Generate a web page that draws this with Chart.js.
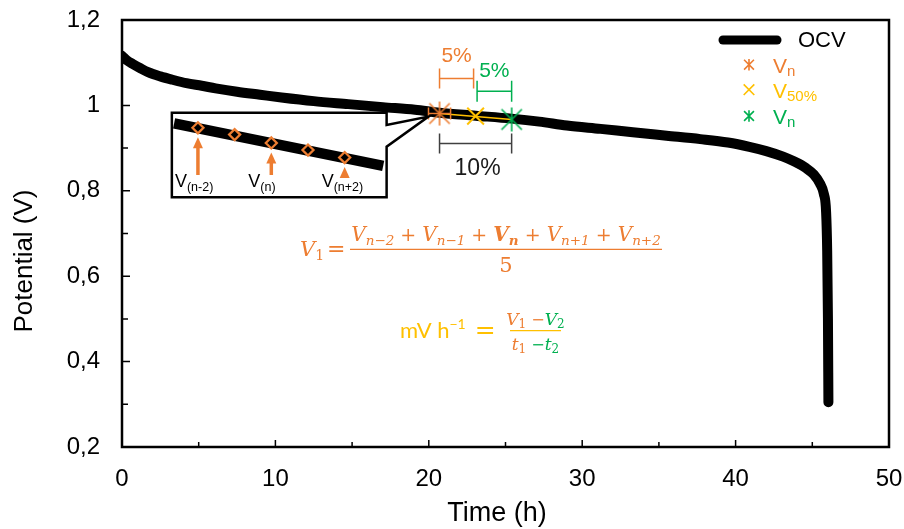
<!DOCTYPE html>
<html>
<head>
<meta charset="utf-8">
<script src="https://cdn.jsdelivr.net/npm/chart.js@4.4.1/dist/chart.umd.min.js"></script>
<style>
  html, body { margin: 0; padding: 0; background: #fff; }
  #wrap { position: relative; width: 904px; height: 529px; }
  #main { position: absolute; left: 0; top: 0; }
  #inset { position: absolute; }
</style>
</head>
<body>
<div id="wrap">
  <canvas id="main" width="904" height="529"></canvas>
  <canvas id="inset"></canvas>
</div>
<script>
// ---- OCV discharge curve: time (h) and potential (V) ----
const timeH = [0, 0.3, 0.7, 1.2, 1.7, 2.5, 3.3, 4.2, 5.2, 6.1, 7.5, 9.0, 10.4, 12.5, 14.75,
  17.0, 19.1, 20.7, 23.05, 25.4, 27.2, 29.0, 31.2, 33.3, 35.5, 37.7, 39.5, 40.9, 42.0,
  43.1, 43.8, 44.6, 45.1, 45.5, 45.75, 45.9, 45.97, 46.02, 46.05];
const ocvV = [1.116, 1.106, 1.097, 1.087, 1.078, 1.068, 1.060, 1.052, 1.046, 1.040, 1.032,
  1.025, 1.0185, 1.010, 1.003, 0.996, 0.990, 0.983, 0.976, 0.969, 0.962, 0.953, 0.945,
  0.937, 0.929, 0.921, 0.913, 0.903, 0.893, 0.880, 0.869, 0.853, 0.838, 0.817, 0.793,
  0.750, 0.66, 0.50, 0.305];

// ---- sampled points: V_n (start), V_50%, V_n (end) ----
const markerT = [20.7, 23.05, 25.4];
const markerV = [0.981, 0.975, 0.967];
const markerSub = ['n', '50%', 'n'];
const startErrT = [0.72];
const spanLabels = ['5%', '5%', '10%'];

// ---- axis tick labels and titles ----
const xTickLabels = ['0', '10', '20', '30', '40', '50'];
const yTickLabels = ['0,2', '0,4', '0,6', '0,8', '1', '1,2'];
const xTitle = 'Time (h)';
const yTitle = 'Potential (V)';

// ---- zoomed window: five consecutive samples around V_n ----
const windowIdx = [-2, -1, 0, 1, 2];
const windowV = [2.04, 1.13, 0, -0.95, -1.96];
const trendIdx = [-2.65, 3.05];
const trendV = [2.63, -3.09];
const arrowIdx = [-2, 0, 2];
const arrowSub = ['(n-2)', '(n)', '(n+2)'];

const ORANGE = '#ED7D31', YELLOW = '#FFC000', GREEN = '#00B050';
const SANS = "'Liberation Sans', Arial, sans-serif";
const SERIF = "'DejaVu Serif', serif";

Chart.defaults.font.family = SANS;
Chart.defaults.color = '#000';

function drawAsterisk(ctx, x, y, r, color, lw) {
  const d = r * 0.85;
  ctx.save();
  ctx.strokeStyle = color;
  ctx.lineWidth = lw;
  ctx.beginPath();
  ctx.moveTo(x, y - r); ctx.lineTo(x, y + r);
  ctx.moveTo(x - d, y - d); ctx.lineTo(x + d, y + d);
  ctx.moveTo(x - d, y + d); ctx.lineTo(x + d, y - d);
  ctx.stroke();
  ctx.restore();
}
function drawCross(ctx, x, y, r, color, lw) {
  ctx.save();
  ctx.strokeStyle = color;
  ctx.lineWidth = lw;
  ctx.beginPath();
  ctx.moveTo(x - r, y - r); ctx.lineTo(x + r, y + r);
  ctx.moveTo(x - r, y + r); ctx.lineTo(x + r, y - r);
  ctx.stroke();
  ctx.restore();
}
function asteriskImage(r, color, lw) {
  const c = document.createElement('canvas');
  const s = Math.ceil(2 * r + lw + 2);
  c.width = s; c.height = s;
  drawAsterisk(c.getContext('2d'), s / 2, s / 2, r, color, lw);
  return c;
}

// draw a run of text pieces in sequence; returns total width
function runs(ctx, x, base, parts, align) {
  let total = 0;
  parts.forEach(p => { ctx.font = p.font; total += ctx.measureText(p.t).width + (p.gap || 0); });
  let cx = align === 'center' ? x - total / 2 : x;
  ctx.textAlign = 'left';
  ctx.textBaseline = 'alphabetic';
  parts.forEach(p => {
    ctx.font = p.font;
    ctx.fillStyle = p.color;
    ctx.fillText(p.t, cx, base + (p.dy || 0));
    cx += ctx.measureText(p.t).width + (p.gap || 0);
  });
  return total;
}

// zoom frame around the window, in data units of the main chart
const frame = { t0: 3.25, t1: 17.25, vTop: 0.983, vBot: 0.785 };

const framePlugin = {
  id: 'frameTicks',
  afterDatasetsDraw(chart) {
    const ctx = chart.ctx;
    const { left, right, top, bottom } = chart.chartArea;
    const xs = chart.scales.x, ys = chart.scales.y;
    ctx.save();
    ctx.strokeStyle = '#000';
    ctx.lineWidth = 2.5;
    ctx.strokeRect(left, top, right - left, bottom - top);
    ctx.lineWidth = 1.5;
    ctx.beginPath();
    xs.ticks.forEach(t => {
      const px = xs.getPixelForValue(t.value);
      const len = Math.round(t.value) % 10 === 0 ? 7 : 5;
      ctx.moveTo(px, bottom); ctx.lineTo(px, bottom - len);
    });
    ys.ticks.forEach(t => {
      const py = ys.getPixelForValue(t.value);
      const len = Math.round(t.value * 10) % 2 === 0 ? 8 : 6;
      ctx.moveTo(left, py); ctx.lineTo(left + len, py);
    });
    ctx.stroke();

    // axis titles
    ctx.fillStyle = '#000';
    ctx.textAlign = 'center'; ctx.textBaseline = 'middle';
    ctx.font = '27px ' + SANS;
    ctx.fillText(xTitle, 497, 514);
    ctx.translate(25, 261);
    ctx.rotate(-Math.PI / 2);
    ctx.font = '26px ' + SANS;
    ctx.fillText(yTitle, 0, 0);
    ctx.restore();
  }
};

const notesPlugin = {
  id: 'notes',
  afterDatasetsDraw(chart) {
    const ctx = chart.ctx;
    const xs = chart.scales.x, ys = chart.scales.y;
    const xo = xs.getPixelForValue(markerT[0]);
    const xy = xs.getPixelForValue(markerT[1]);
    const xg = xs.getPixelForValue(markerT[2]);
    const yo = ys.getPixelForValue(markerV[0]);
    ctx.save();

    // error bar on the first sample
    const e0 = xs.getPixelForValue(markerT[0] - startErrT[0]);
    const e1 = xs.getPixelForValue(markerT[0] + startErrT[0]);
    ctx.strokeStyle = ORANGE; ctx.lineWidth = 1.5;
    ctx.beginPath();
    ctx.moveTo(e0, yo); ctx.lineTo(e1, yo);
    ctx.moveTo(e0, yo - 6); ctx.lineTo(e0, yo + 6);
    ctx.moveTo(e1, yo - 6); ctx.lineTo(e1, yo + 6);
    ctx.stroke();

    // span brackets
    function bracket(a, b, y, h, color) {
      ctx.strokeStyle = color; ctx.lineWidth = 1.5;
      ctx.beginPath();
      ctx.moveTo(a, y); ctx.lineTo(b, y);
      ctx.moveTo(a, y - h); ctx.lineTo(a, y + h);
      ctx.moveTo(b, y - h); ctx.lineTo(b, y + h);
      ctx.stroke();
    }
    ctx.textAlign = 'center'; ctx.textBaseline = 'middle';
    bracket(xo, xy - 2, yo - 35, 10, ORANGE);
    ctx.fillStyle = ORANGE; ctx.font = '21px ' + SANS;
    ctx.fillText(spanLabels[0], (xo + xy - 2) / 2, yo - 57);
    bracket(xy + 1.5, xg, yo - 22.3, 10.5, GREEN);
    ctx.fillStyle = GREEN;
    ctx.fillText(spanLabels[1], (xy + 1.5 + xg) / 2, yo - 42);
    bracket(xo, xg, yo + 30, 10, '#404040');
    ctx.fillStyle = '#1a1a1a'; ctx.font = '23px ' + SANS;
    ctx.fillText(spanLabels[2], (xo + xg) / 2 + 2, yo + 55);

    // zoom frame with callout towards the first sample
    const L = xs.getPixelForValue(frame.t0), R = xs.getPixelForValue(frame.t1);
    const T = ys.getPixelForValue(frame.vTop), B = ys.getPixelForValue(frame.vBot);
    ctx.strokeStyle = '#000'; ctx.lineWidth = 2.5; ctx.lineJoin = 'miter';
    ctx.fillStyle = '#fff';
    ctx.beginPath();
    ctx.moveTo(L, T); ctx.lineTo(R, T); ctx.lineTo(R, T + 12.3);
    ctx.lineTo(e0, yo + 3); ctx.lineTo(R, T + 34);
    ctx.lineTo(R, B); ctx.lineTo(L, B); ctx.closePath();
    ctx.fill(); ctx.stroke();

    // legend
    ctx.lineCap = 'round'; ctx.lineWidth = 9; ctx.strokeStyle = '#000';
    ctx.beginPath(); ctx.moveTo(723, 40); ctx.lineTo(777, 40); ctx.stroke();
    ctx.lineCap = 'butt';
    ctx.fillStyle = '#000'; ctx.font = '22px ' + SANS;
    ctx.textAlign = 'left'; ctx.textBaseline = 'middle';
    ctx.fillText('OCV', 798, 41);
    const colors = [ORANGE, YELLOW, GREEN];
    const rows = [64.7, 89.7, 116];
    rows.forEach((ry, i) => {
      if (i === 1) drawCross(ctx, 749, ry, 5.3, colors[i], 1.6);
      else drawAsterisk(ctx, 749, ry, 5.8, colors[i], 1.6);
      runs(ctx, 773, ry + 8, [
        { t: 'V', font: '21px ' + SANS, color: colors[i] },
        { t: markerSub[i], font: '15px ' + SANS, color: colors[i], dy: 3 }
      ]);
    });

    // formulas
    const it = (s) => 'italic ' + s + 'px ' + SERIF;
    const up = (s) => s + 'px ' + SERIF;
    const bi = (s) => 'italic bold ' + s + 'px ' + SERIF;
    runs(ctx, 300, 256, [
      { t: 'V', font: it(21), color: ORANGE },
      { t: '1', font: up(14), color: ORANGE, dy: 4, gap: 3 },
      { t: '=', font: up(22), color: ORANGE }
    ]);
    const sub = (t, c) => ({ t, font: it(13.5), color: c || ORANGE, dy: 4 });
    runs(ctx, 506, 241, [
      { t: 'V', font: it(20), color: ORANGE }, sub('n\u22122'),
      { t: ' + ', font: up(19), color: ORANGE },
      { t: 'V', font: it(20), color: ORANGE }, sub('n\u22121'),
      { t: ' + ', font: up(19), color: ORANGE },
      { t: 'V', font: bi(20), color: ORANGE }, { t: 'n', font: bi(13.5), color: ORANGE, dy: 4 },
      { t: ' + ', font: up(19), color: ORANGE },
      { t: 'V', font: it(20), color: ORANGE }, sub('n+1'),
      { t: ' + ', font: up(19), color: ORANGE },
      { t: 'V', font: it(20), color: ORANGE }, sub('n+2')
    ], 'center');
    ctx.strokeStyle = ORANGE; ctx.lineWidth = 1.3;
    ctx.beginPath(); ctx.moveTo(350, 249.3); ctx.lineTo(662, 249.3); ctx.stroke();
    runs(ctx, 506, 272, [{ t: '5', font: up(21), color: ORANGE }], 'center');

    runs(ctx, 400, 338, [
      { t: 'mV h', font: '22px Lato, ' + SANS, color: YELLOW },
      { t: '\u22121', font: '14px Lato, ' + SANS, color: YELLOW, dy: -9, gap: 9 },
      { t: '=', font: up(25), color: YELLOW }
    ]);
    runs(ctx, 535.5, 325, [
      { t: 'V', font: it(17), color: ORANGE },
      { t: '1', font: up(12), color: ORANGE, dy: 3 },
      { t: ' \u2212', font: up(16), color: ORANGE },
      { t: 'V', font: it(17), color: GREEN },
      { t: '2', font: up(12), color: GREEN, dy: 3 }
    ], 'center');
    ctx.strokeStyle = YELLOW; ctx.lineWidth = 1.2;
    ctx.beginPath(); ctx.moveTo(510, 330.7); ctx.lineTo(561, 330.7); ctx.stroke();
    runs(ctx, 535.5, 350, [
      { t: 't', font: it(17), color: ORANGE },
      { t: '1', font: up(12), color: ORANGE, dy: 3 },
      { t: ' \u2212', font: up(16), color: GREEN },
      { t: 't', font: it(17), color: GREEN },
      { t: '2', font: up(12), color: GREEN, dy: 3 }
    ], 'center');
    ctx.restore();
  }
};

const chart = new Chart(document.getElementById('main'), {
  type: 'line',
  data: {
    datasets: [
      { label: 'Vn', data: [{ x: markerT[0], y: markerV[0] }], showLine: false,
        pointStyle: asteriskImage(12, ORANGE, 1.6), order: 0 },
      { label: 'V50%', data: [{ x: markerT[1], y: markerV[1] }], showLine: false,
        pointStyle: 'crossRot', pointRadius: 11.8, pointBorderWidth: 2,
        pointBorderColor: YELLOW, pointBackgroundColor: YELLOW, order: 0 },
      { label: 'Vn end', data: [{ x: markerT[2], y: markerV[2] }], showLine: false,
        pointStyle: asteriskImage(12, GREEN, 1.6), order: 0 },
      { label: 'slope', data: [{ x: markerT[0], y: markerV[0] }, { x: markerT[2], y: markerV[2] }],
        borderColor: YELLOW, borderWidth: 1.7, pointRadius: 0, order: 1 },
      { label: 'OCV', data: timeH.map((t, i) => ({ x: t, y: ocvV[i] })),
        borderColor: '#000', borderWidth: 10, pointRadius: 0,
        cubicInterpolationMode: 'monotone', borderCapStyle: 'round',
        borderJoinStyle: 'round', order: 2 }
    ]
  },
  options: {
    responsive: false,
    animation: false,
    events: [],
    layout: { autoPadding: false, padding: { left: 0, top: 20, right: 15, bottom: 0 } },
    plugins: { legend: { display: false }, tooltip: { enabled: false } },
    scales: {
      x: {
        type: 'linear', min: 0, max: 50,
        grid: { display: false, drawTicks: false },
        border: { display: false },
        ticks: {
          stepSize: 5, autoSkip: false, maxRotation: 0, padding: 18,
          font: { size: 24 }, color: '#000',
          callback: (v) => (Math.round(v) % 10 === 0 ? xTickLabels[Math.round(v) / 10] : '')
        },
        afterFit: (s) => { s.height = 82; s.paddingLeft = 0; s.paddingRight = 0; }
      },
      y: {
        min: 0.2, max: 1.2,
        grid: { display: false, drawTicks: false },
        border: { display: false },
        ticks: {
          stepSize: 0.1, autoSkip: false, padding: 22,
          font: { size: 24 }, color: '#000',
          callback: (v) => {
            const k = Math.round((v - 0.2) * 10);
            return k % 2 === 0 ? yTickLabels[k / 2] : '';
          }
        },
        afterFit: (s) => { s.width = 122; s.paddingTop = 0; s.paddingBottom = 0; }
      }
    }
  },
  plugins: [notesPlugin, framePlugin]
});

// ---- zoomed window drawn as its own small chart inside the frame ----
const xs = chart.scales.x, ys = chart.scales.y;
const fL = xs.getPixelForValue(frame.t0), fR = xs.getPixelForValue(frame.t1);
const fT = ys.getPixelForValue(frame.vTop), fB = ys.getPixelForValue(frame.vBot);
const insetCv = document.getElementById('inset');
insetCv.width = Math.round(fR - fL);
insetCv.height = Math.round(fB - fT);
insetCv.style.left = fL + 'px';
insetCv.style.top = fT + 'px';

const arrowPlugin = {
  id: 'arrows',
  afterDatasetsDraw(c) {
    const ctx = c.ctx;
    const ix = c.scales.x, iy = c.scales.y;
    ctx.save();
    arrowIdx.forEach((k, j) => {
      const i = windowIdx.indexOf(k);
      const px = ix.getPixelForValue(k);
      const tip = iy.getPixelForValue(windowV[i]) + 9.5;
      const tail = 62;
      ctx.strokeStyle = ORANGE; ctx.fillStyle = ORANGE; ctx.lineWidth = 3.5;
      ctx.beginPath(); ctx.moveTo(px, tail); ctx.lineTo(px, tip + 9); ctx.stroke();
      ctx.beginPath();
      ctx.moveTo(px, tip); ctx.lineTo(px - 5, tip + 11); ctx.lineTo(px + 5, tip + 11);
      ctx.closePath(); ctx.fill();
      runs(ctx, px - 23, 73.5, [
        { t: 'V', font: '18px ' + SANS, color: '#000' },
        { t: arrowSub[j], font: '12.5px ' + SANS, color: '#000', dy: 4.5 }
      ]);
    });
    ctx.restore();
  }
};

new Chart(insetCv, {
  type: 'line',
  data: {
    datasets: [
      { data: windowIdx.map((k, i) => ({ x: k, y: windowV[i] })), showLine: false,
        pointStyle: 'rectRot', pointRadius: 5.5, pointBorderWidth: 2.3,
        pointBorderColor: ORANGE, pointBackgroundColor: 'rgba(0,0,0,0)', order: 0 },
      { data: trendIdx.map((k, i) => ({ x: k, y: trendV[i] })),
        borderColor: '#000', borderWidth: 10.5, pointRadius: 0, order: 1 }
    ]
  },
  options: {
    responsive: false,
    animation: false,
    events: [],
    layout: { autoPadding: false, padding: 0 },
    plugins: { legend: { display: false }, tooltip: { enabled: false } },
    scales: {
      x: { type: 'linear', display: false, min: -2.707, max: 3.154 },
      y: { display: false, min: -7.4, max: 4.03 }
    }
  },
  plugins: [arrowPlugin]
});
</script>
</body>
</html>
